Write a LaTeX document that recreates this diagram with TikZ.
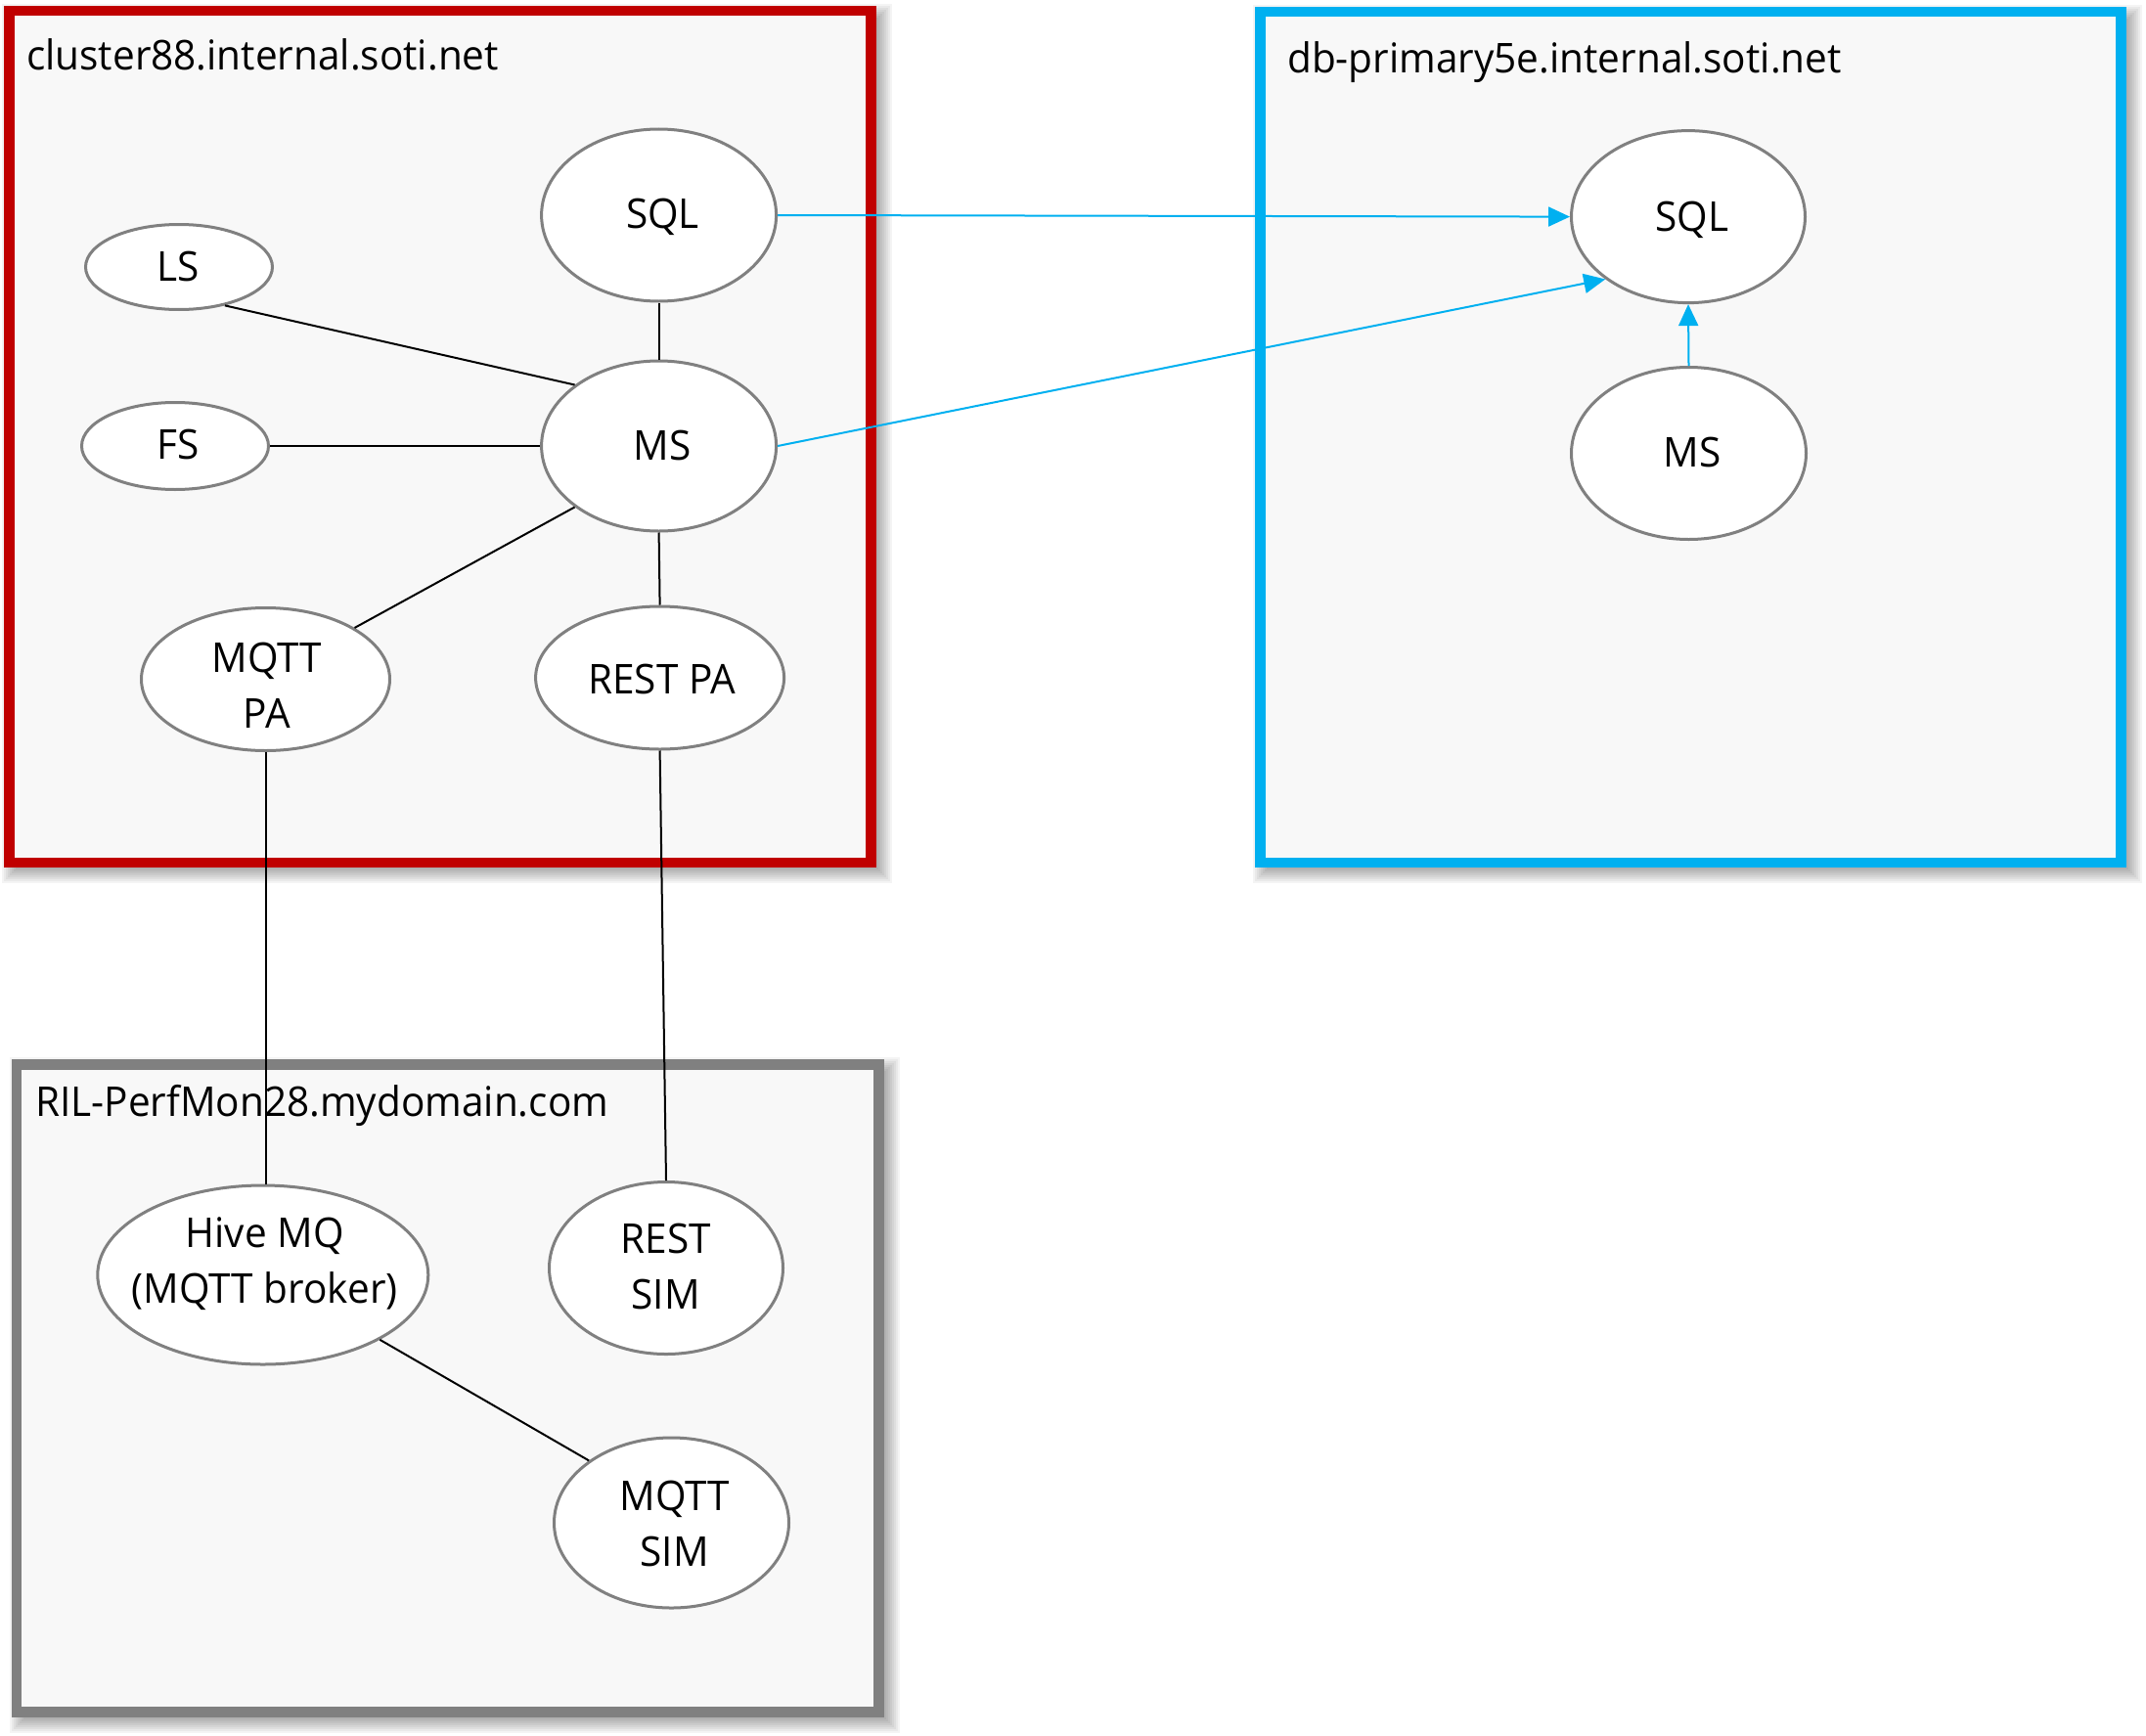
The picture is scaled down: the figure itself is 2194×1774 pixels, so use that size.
\documentclass[tikz,border=0pt]{standalone}
\usepackage{fontspec}
\setmainfont[FakeStretch=0.965]{Open Sans}
\usetikzlibrary{arrows.meta,shapes.geometric}
\definecolor{boxred}{HTML}{C00000}
\definecolor{boxblue}{HTML}{00B0F0}
\definecolor{boxgray}{HTML}{808080}
\definecolor{ellgray}{HTML}{808080}
\definecolor{panel}{HTML}{F8F8F8}
\tikzset{
  ell/.style={ellipse, draw=ellgray, line width=3pt, fill=white, inner sep=0pt},
  lbl/.style={anchor=base, align=center, inner sep=0pt, font=\fontsize{42}{57.5}\selectfont},
  ttl/.style={anchor=base west, inner sep=0pt, font=\fontsize{42}{57.5}\selectfont},
  conn/.style={line width=2pt, black},
  bconn/.style={line width=2pt, boxblue, -{Triangle[length=22pt,width=20pt]}},
  panelbox/.style={line width=10.5pt, fill=panel},
}
\newcommand\mydropshadow[4]{%
  \foreach \e in {-9,-7,...,9}{%
    \fill[black,opacity=0.045] ({#1-5.25+7-\e},{#2-5.25+7-\e}) rectangle ({#3+5.25+7+\e},{#4+5.25+7+\e});
  }}
\begin{document}
\begin{tikzpicture}[x=1pt,y=-1pt]
\useasboundingbox[fill=white] (0,0) rectangle (2194,1774);
% shadows
\mydropshadow{9.5}{11}{890.5}{882}
\mydropshadow{1288.5}{12}{2168.5}{882}
\mydropshadow{17}{1088.5}{898.5}{1750.5}
% boxes
\draw[panelbox, draw=boxred] (9.5,11) rectangle (890.5,882);
\draw[panelbox, draw=boxblue] (1288.5,12) rectangle (2168.5,882);
\draw[panelbox, draw=boxgray] (17,1088.5) rectangle (898.5,1750.5);
% titles
\node[ttl] (t1) at (27,72) {cluster88.internal.soti.net};
\node[ttl] (t2) at (1316,74.6) {db-primary5e.internal.soti.net};
\node[ttl] (t3) at (36,1141.4) {RIL-PerfMon28.mydomain.com};
% ellipses
\node[ell, minimum width=240pt, minimum height=176pt] (sqll) at (673.6,220) {};
\node[ell, minimum width=191pt, minimum height=87pt] (ls) at (183,273) {};
\node[ell, minimum width=191pt, minimum height=89pt] (fs) at (179,456) {};
\node[ell, minimum width=240pt, minimum height=174pt] (msl) at (673.6,456) {};
\node[ell, minimum width=254pt, minimum height=146pt] (mqttpa) at (271.5,694.5) {};
\node[ell, minimum width=254pt, minimum height=146pt] (restpa) at (674.6,693) {};
\node[ell, minimum width=239pt, minimum height=176pt] (sqlr) at (1726,221.6) {};
\node[ell, minimum width=240pt, minimum height=176pt] (msr) at (1726.5,463.5) {};
\node[ell, minimum width=338pt, minimum height=183pt] (hive) at (268.8,1303.5) {};
\node[ell, minimum width=239pt, minimum height=176pt] (restsim) at (681,1296.5) {};
\node[ell, minimum width=240pt, minimum height=174pt] (mqttsim) at (686.5,1557) {};
% labels (base anchor = baseline of the last line)
\node[lbl] (lsqll) at (677.5,233.5) {SQL};
\node[lbl] (lls) at (182.3,287) {LS};
\node[lbl] (lfs) at (182.3,469.6) {FS};
\node[lbl] (lmsl) at (677.3,470.7) {MS};
\node[lbl] (lmqttpa) at (273,744.5) {MQTT\\PA};
\node[lbl] (lrestpa) at (676.8,709) {REST PA};
\node[lbl] (lsqlr) at (1730,236.5) {SQL};
\node[lbl] (lmsr) at (1730,477.6) {MS};
\node[lbl] (lhive) at (270.7,1332.5) {Hive MQ\\(MQTT broker)};
\node[lbl] (lrestsim) at (680.7,1338.5) {REST\\SIM};
\node[lbl] (lmqttsim) at (689.7,1601.7) {MQTT\\SIM};
% connectors
\draw[conn] (ls.-40) -- (msl.144);
\draw[conn] (fs.east) -- (msl.west);
\draw[conn] (sqll.south) -- (msl.north);
\draw[conn] (msl.216.6) -- (mqttpa.30.8);
\draw[conn] (msl.south) -- (restpa.north);
\draw[conn] (mqttpa.south) -- (mqttpa.south |- hive.north);
\draw[conn] (restpa.south) -- (restsim.north);
\draw[conn] (hive.-29.1) -- (mqttsim.143.1);
\draw[bconn] (sqll.east) -- (sqlr.west);
\draw[bconn] (msl.east) -- (sqlr.217.3);
\draw[bconn] (msr.north) -- (sqlr.south);
\end{tikzpicture}
\end{document}
